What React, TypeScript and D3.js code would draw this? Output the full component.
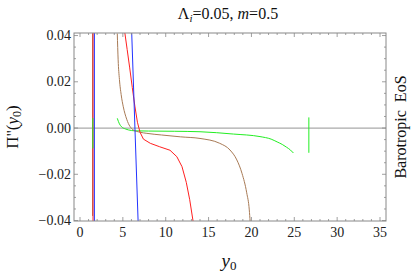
import React from 'react';
import * as d3 from 'd3';

// x-axis / y-axis ticks
const xTicks = [0, 5, 10, 15, 20, 25, 30, 35];
const yTicks = [-0.04, -0.02, 0, 0.02, 0.04];
const yTickLabels = ['\u22120.04', '\u22120.02', '0.00', '0.02', '0.04'];

// curves: [y0, Pi''(y0)]
const redCurve: [number, number][] = [
  [5.2, 0.042], [5.5, 0.034], [5.8, 0.026], [6.1, 0.0175], [6.4, 0.0095],
  [6.7, 0.0025], [7.0, -0.0018], [7.4, -0.0048], [8.2, -0.0066], [9.3, -0.0081],
  [10.5, -0.0096], [11.3, -0.0124], [11.9, -0.0167], [12.4, -0.0235],
  [12.8, -0.031], [13.2, -0.0405],
];
const brownCurve: [number, number][] = [
  [4.35, 0.0409], [4.45, 0.0295], [4.6, 0.021], [4.8, 0.0145], [5.05, 0.0092],
  [5.45, 0.0038], [6.2, -0.0008], [7.0, -0.0018], [7.8, -0.0023], [9.5, -0.003],
  [11.7, -0.0038], [14.0, -0.0045], [16.3, -0.0066], [17.5, -0.0095],
  [18.3, -0.0138], [18.9, -0.0196], [19.45, -0.028], [19.75, -0.0354], [19.85, -0.0405],
];
const greenCurve: [number, number][] = [
  [4.35, 0.0042], [4.6, 0.0018], [4.86, 0.0005], [5.3, -0.0004], [5.64, -0.0008],
  [6.4, -0.0012], [8.0, -0.0013], [11.0, -0.0014], [14.0, -0.0016], [17.9, -0.0026],
  [21.0, -0.0037], [22.3, -0.0048], [23.0, -0.006], [23.6, -0.0071],
  [24.1, -0.0083], [24.55, -0.0095], [24.9, -0.0108],
];
const blueCurve: [number, number][] = [[6.02, 0.0425], [6.8, -0.0425]];

// near-vertical branches
const redBranch: [number, number][] = [[1.52, 0.0425], [1.52, -0.0425]];
const brownBranch: [number, number][] = [[1.47, 0.041], [1.47, -0.038]];
const greenBranch: [number, number][] = [[1.5, 0.0043], [1.5, -0.0088]];
const blueBranch: [number, number][] = [[1.68, 0.0425], [1.68, -0.0425]];
const greenSpike: [number, number][] = [[26.7, 0.0046], [26.7, -0.0107]];

const RED = '#ff2020';
const BROWN = '#a87a55';
const GREEN = '#22ee22';
const BLUE = '#2233ff';

const W = 415;
const H = 275;
const FONT = 'Liberation Serif, Times New Roman, Times, serif';

export default function App() {
  const left = 74;
  const right = 386;
  const top = 33;
  const bottom = 221;

  const x = d3.scaleLinear().domain([-0.7, 35.7]).range([left, right]);
  const y = d3.scaleLinear().domain([-0.0402, 0.0411]).range([bottom, top]);

  const line = d3
    .line<[number, number]>()
    .x(d => x(d[0]))
    .y(d => y(d[1]))
    .curve(d3.curveMonotoneX);
  const straight = d3
    .line<[number, number]>()
    .x(d => x(d[0]))
    .y(d => y(d[1]));

  const xMinor = d3.range(0, 36, 1);
  const yMinor = d3.range(-0.04, 0.0401, 0.005);
  const frame = '#888';
  const serif = { fontFamily: FONT };

  return (
    <svg width={W} height={H} style={{ position: 'absolute', left: 0, top: 0, fontFamily: FONT }}>
      <rect width={W} height={H} fill="#fff" />
      <defs>
        <clipPath id="plot">
          <rect x={left} y={top} width={right - left} height={bottom - top} />
        </clipPath>
      </defs>

      {/* zero line */}
      <line x1={left} x2={right} y1={y(0)} y2={y(0)} stroke="#aaa" strokeWidth={1.2} />

      <g clipPath="url(#plot)" fill="none" strokeWidth={1}>
        <path d={straight(brownBranch) ?? ''} stroke={BROWN} />
        <path d={straight(redBranch) ?? ''} stroke={RED} />
        <path d={straight(greenBranch) ?? ''} stroke={GREEN} />
        <path d={straight(blueBranch) ?? ''} stroke={BLUE} />
        <path d={line(greenCurve) ?? ''} stroke={GREEN} />
        <path d={line(brownCurve) ?? ''} stroke={BROWN} />
        <path d={straight(redCurve) ?? ''} stroke={RED} />
        <path d={straight(blueCurve) ?? ''} stroke={BLUE} />
        <path d={straight(greenSpike) ?? ''} stroke={GREEN} />
      </g>

      {/* frame */}
      <rect x={left} y={top} width={right - left} height={bottom - top} fill="none" stroke={frame} strokeWidth={1} />
      <g stroke={frame} strokeWidth={0.8}>
        {xMinor.map(v => {
          const len = v % 5 === 0 ? 4 : 2;
          return (
            <g key={'x' + v}>
              <line x1={x(v)} x2={x(v)} y1={bottom} y2={bottom - len} />
              <line x1={x(v)} x2={x(v)} y1={top} y2={top + len} />
            </g>
          );
        })}
        {yMinor.map((v, i) => {
          const len = i % 4 === 0 ? 4 : 2;
          return (
            <g key={'y' + i}>
              <line x1={left} x2={left + len} y1={y(v)} y2={y(v)} />
              <line x1={right} x2={right - len} y1={y(v)} y2={y(v)} />
            </g>
          );
        })}
      </g>

      {/* tick labels */}
      {xTicks.map(v => (
        <text key={v} x={x(v)} y={bottom + 16} textAnchor="middle" style={serif} fontSize={14} fill="#222">
          {v}
        </text>
      ))}
      {yTicks.map((v, i) => (
        <text key={v} x={left - 3} y={y(v) + 4.5} textAnchor="end" style={serif} fontSize={14} fill="#222">
          {yTickLabels[i]}
        </text>
      ))}

      {/* title */}
      <text x={228} y={19} textAnchor="middle" style={serif} fontSize={16} fill="#111">
        Λ<tspan fontStyle="italic" fontSize={11} dy={3}>i</tspan>
        <tspan dy={-3}>=0.05, </tspan>
        <tspan fontStyle="italic">m</tspan>=0.5
      </text>

      {/* axis labels */}
      <text x={229} y={267} textAnchor="middle" style={serif} fontSize={19} fill="#111">
        <tspan fontStyle="italic">y</tspan>
        <tspan fontSize={13} dy={3}>0</tspan>
      </text>
      <text
        transform={`translate(18,${(top + bottom) / 2}) rotate(-90)`}
        textAnchor="middle"
        style={serif}
        fontSize={17}
        fill="#111"
      >
        Π''(<tspan fontStyle="italic">y</tspan>
        <tspan fontSize={12} dy={3}>0</tspan>
        <tspan dy={-3}>)</tspan>
      </text>
      <text
        transform={`translate(406,${(top + bottom) / 2}) rotate(-90)`}
        textAnchor="middle"
        style={serif}
        fontSize={16}
        fill="#111"
        xmlSpace="preserve"
      >
        Barotropic  EoS
      </text>
    </svg>
  );
}
